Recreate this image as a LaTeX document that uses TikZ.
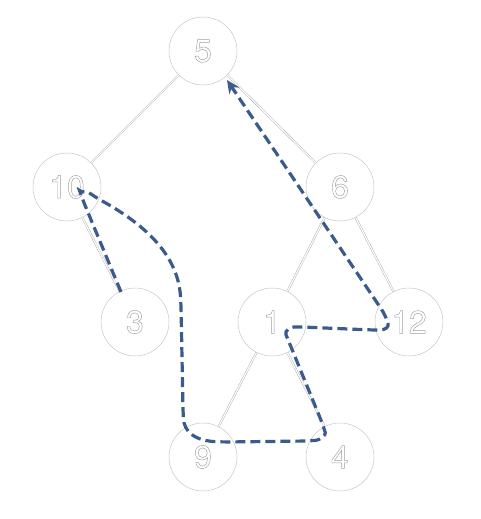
\documentclass[tikz,border=0pt]{standalone}
\usepackage{fontspec}
\setmainfont{TeX Gyre Heros}
\usetikzlibrary{arrows.meta}
\definecolor{pathblue}{HTML}{3B5B8C}
\tikzset{
  tnode/.style={circle, draw=black!22, line width=0.5pt, minimum size=68pt, inner sep=0pt,
    font=\fontsize{32}{32}\selectfont, text=black!38},
  tedge/.style={draw=black!35, line width=0.4pt, double=white, double distance=1.2pt},
  walk/.style={pathblue, line width=3.2pt, dash pattern=on 10pt off 5pt, rounded corners=8pt}
}
\newcommand{\olnum}[1]{\special{pdf:literal 1 Tr 0.45 w}#1\special{pdf:literal 0 Tr}}
\begin{document}
\begin{tikzpicture}[x=1pt,y=-1pt]
\useasboundingbox (0,0) rectangle (481,519);
\node[tnode] (n5) at (203,51) {\olnum{5}};
\node[tnode] (n10) at (67,187) {\olnum{10}};
\node[tnode] (n6) at (340,187) {\olnum{6}};
\node[tnode] (n3) at (135,322) {\olnum{3}};
\node[tnode] (n1) at (272,322) {\olnum{1}};
\node[tnode] (n12) at (409,322) {\olnum{12}};
\node[tnode] (n9) at (203,457) {\olnum{9}};
\node[tnode] (n4) at (340,457) {\olnum{4}};
\draw[tedge] (n5) -- (n10);
\draw[tedge] (n5) -- (n6);
\draw[tedge] (n10) -- (n3);
\draw[tedge] (n6) -- (n1);
\draw[tedge] (n6) -- (n12);
\draw[tedge] (n1) -- (n9);
\draw[tedge] (n1) -- (n4);
\coordinate (s) at (121,292);
\coordinate (e) at (227,80);
\draw[walk, -{Stealth[length=13pt,width=12pt,inset=4pt]}]
  (s) -- (82,198)
  .. controls (80,192) and (88,192) .. (95,197)
  .. controls (140,222) and (178,252) .. (181,305)
  -- (183,410)
  .. controls (184,432) and (195,441) .. (225,442)
  -- (308,441)
  .. controls (320,440) and (326,435) .. (323,425)
  -- (289,342)
  .. controls (284,330) and (292,327) .. (302,327)
  -- (372,330)
  .. controls (385,330) and (389,327) .. (386,316)
  -- (e);
\end{tikzpicture}
\end{document}
